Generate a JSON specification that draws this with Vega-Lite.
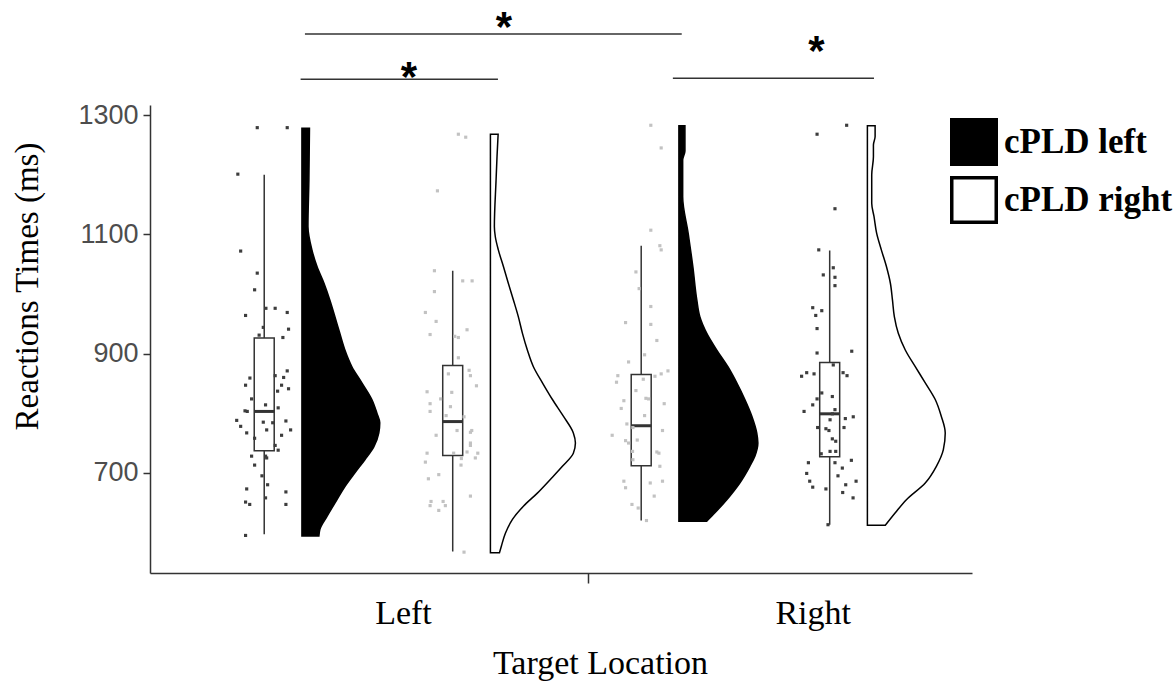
{
  "$schema": "https://vega.github.io/schema/vega-lite/v6.json",
  "autosize": {"type": "none"},
  "width": 822,
  "height": 468,
  "padding": {"left": 150, "top": 105, "right": 204, "bottom": 108},
  "background": "white",
  "config": {"view": {"stroke": null}},
  "datasets": {
    "dens": [
      {"loc":"Left","side":"cPLD left","rt":1278,"d":0.040},{"loc":"Left","side":"cPLD left","rt":1191,"d":0.037},{"loc":"Left","side":"cPLD left","rt":1113,"d":0.032},{"loc":"Left","side":"cPLD left","rt":1074,"d":0.053},{"loc":"Left","side":"cPLD left","rt":1046,"d":0.080},{"loc":"Left","side":"cPLD left","rt":1018,"d":0.117},{"loc":"Left","side":"cPLD left","rt":990,"d":0.148},{"loc":"Left","side":"cPLD left","rt":962,"d":0.175},{"loc":"Left","side":"cPLD left","rt":934,"d":0.201},{"loc":"Left","side":"cPLD left","rt":906,"d":0.228},{"loc":"Left","side":"cPLD left","rt":878,"d":0.265},{"loc":"Left","side":"cPLD left","rt":851,"d":0.318},{"loc":"Left","side":"cPLD left","rt":823,"d":0.371},{"loc":"Left","side":"cPLD left","rt":800,"d":0.398},{"loc":"Left","side":"cPLD left","rt":784,"d":0.413},{"loc":"Left","side":"cPLD left","rt":767,"d":0.408},{"loc":"Left","side":"cPLD left","rt":744,"d":0.382},{"loc":"Left","side":"cPLD left","rt":722,"d":0.334},{"loc":"Left","side":"cPLD left","rt":700,"d":0.281},{"loc":"Left","side":"cPLD left","rt":677,"d":0.228},{"loc":"Left","side":"cPLD left","rt":655,"d":0.186},{"loc":"Left","side":"cPLD left","rt":627,"d":0.133},{"loc":"Left","side":"cPLD left","rt":605,"d":0.095},{"loc":"Left","side":"cPLD left","rt":594,"d":0.090},
      {"loc":"Left","side":"cPLD right","rt":1268,"d":0.041},{"loc":"Left","side":"cPLD right","rt":1230,"d":0.035},{"loc":"Left","side":"cPLD right","rt":1191,"d":0.030},{"loc":"Left","side":"cPLD right","rt":1113,"d":0.021},{"loc":"Left","side":"cPLD right","rt":1096,"d":0.026},{"loc":"Left","side":"cPLD right","rt":1074,"d":0.042},{"loc":"Left","side":"cPLD right","rt":1046,"d":0.069},{"loc":"Left","side":"cPLD right","rt":1018,"d":0.095},{"loc":"Left","side":"cPLD right","rt":990,"d":0.122},{"loc":"Left","side":"cPLD right","rt":962,"d":0.148},{"loc":"Left","side":"cPLD right","rt":934,"d":0.170},{"loc":"Left","side":"cPLD right","rt":906,"d":0.196},{"loc":"Left","side":"cPLD right","rt":878,"d":0.228},{"loc":"Left","side":"cPLD right","rt":851,"d":0.276},{"loc":"Left","side":"cPLD right","rt":823,"d":0.329},{"loc":"Left","side":"cPLD right","rt":795,"d":0.387},{"loc":"Left","side":"cPLD right","rt":767,"d":0.440},{"loc":"Left","side":"cPLD right","rt":750,"d":0.451},{"loc":"Left","side":"cPLD right","rt":733,"d":0.440},{"loc":"Left","side":"cPLD right","rt":711,"d":0.382},{"loc":"Left","side":"cPLD right","rt":689,"d":0.318},{"loc":"Left","side":"cPLD right","rt":666,"d":0.249},{"loc":"Left","side":"cPLD right","rt":644,"d":0.175},{"loc":"Left","side":"cPLD right","rt":622,"d":0.117},{"loc":"Left","side":"cPLD right","rt":599,"d":0.080},{"loc":"Left","side":"cPLD right","rt":577,"d":0.058},{"loc":"Left","side":"cPLD right","rt":566,"d":0.048},
      {"loc":"Right","side":"cPLD left","rt":1282,"d":0.032},{"loc":"Right","side":"cPLD left","rt":1240,"d":0.032},{"loc":"Right","side":"cPLD left","rt":1225,"d":0.020},{"loc":"Right","side":"cPLD left","rt":1163,"d":0.020},{"loc":"Right","side":"cPLD left","rt":1102,"d":0.049},{"loc":"Right","side":"cPLD left","rt":1046,"d":0.074},{"loc":"Right","side":"cPLD left","rt":990,"d":0.095},{"loc":"Right","side":"cPLD left","rt":962,"d":0.111},{"loc":"Right","side":"cPLD left","rt":934,"d":0.148},{"loc":"Right","side":"cPLD left","rt":906,"d":0.201},{"loc":"Right","side":"cPLD left","rt":878,"d":0.260},{"loc":"Right","side":"cPLD left","rt":851,"d":0.307},{"loc":"Right","side":"cPLD left","rt":823,"d":0.350},{"loc":"Right","side":"cPLD left","rt":795,"d":0.387},{"loc":"Right","side":"cPLD left","rt":767,"d":0.413},{"loc":"Right","side":"cPLD left","rt":750,"d":0.419},{"loc":"Right","side":"cPLD left","rt":728,"d":0.403},{"loc":"Right","side":"cPLD left","rt":711,"d":0.376},{"loc":"Right","side":"cPLD left","rt":683,"d":0.323},{"loc":"Right","side":"cPLD left","rt":655,"d":0.254},{"loc":"Right","side":"cPLD left","rt":633,"d":0.191},{"loc":"Right","side":"cPLD left","rt":619,"d":0.148},
      {"loc":"Right","side":"cPLD right","rt":1282,"d":0.041},{"loc":"Right","side":"cPLD right","rt":1264,"d":0.041},{"loc":"Right","side":"cPLD right","rt":1250,"d":0.032},{"loc":"Right","side":"cPLD right","rt":1230,"d":0.032},{"loc":"Right","side":"cPLD right","rt":1200,"d":0.023},{"loc":"Right","side":"cPLD right","rt":1152,"d":0.023},{"loc":"Right","side":"cPLD right","rt":1130,"d":0.035},{"loc":"Right","side":"cPLD right","rt":1102,"d":0.049},{"loc":"Right","side":"cPLD right","rt":1074,"d":0.074},{"loc":"Right","side":"cPLD right","rt":1046,"d":0.101},{"loc":"Right","side":"cPLD right","rt":1018,"d":0.122},{"loc":"Right","side":"cPLD right","rt":990,"d":0.133},{"loc":"Right","side":"cPLD right","rt":962,"d":0.143},{"loc":"Right","side":"cPLD right","rt":934,"d":0.164},{"loc":"Right","side":"cPLD right","rt":906,"d":0.201},{"loc":"Right","side":"cPLD right","rt":878,"d":0.254},{"loc":"Right","side":"cPLD right","rt":851,"d":0.307},{"loc":"Right","side":"cPLD right","rt":823,"d":0.360},{"loc":"Right","side":"cPLD right","rt":795,"d":0.392},{"loc":"Right","side":"cPLD right","rt":767,"d":0.413},{"loc":"Right","side":"cPLD right","rt":739,"d":0.403},{"loc":"Right","side":"cPLD right","rt":711,"d":0.366},{"loc":"Right","side":"cPLD right","rt":683,"d":0.307},{"loc":"Right","side":"cPLD right","rt":655,"d":0.207},{"loc":"Right","side":"cPLD right","rt":633,"d":0.148},{"loc":"Right","side":"cPLD right","rt":612,"d":0.095}
    ],
    "box": [
      {"loc":"Left","side":"cPLD left","lo":597,"q1":737,"med":803,"q3":926,"hi":1200},
      {"loc":"Left","side":"cPLD right","lo":568,"q1":729,"med":786,"q3":880,"hi":1039},
      {"loc":"Right","side":"cPLD left","lo":620,"q1":712,"med":779,"q3":865,"hi":1081},
      {"loc":"Right","side":"cPLD right","lo":613,"q1":727,"med":799,"q3":885,"hi":1073}
    ],
    "pts": [
      {"loc":"Left","side":"cPLD left","rt":1279,"jit":-0.037},{"loc":"Left","side":"cPLD left","rt":1279,"jit":0.122},{"loc":"Left","side":"cPLD left","rt":1201,"jit":-0.140},{"loc":"Left","side":"cPLD left","rt":1072,"jit":-0.125},{"loc":"Left","side":"cPLD left","rt":1035,"jit":-0.037},{"loc":"Left","side":"cPLD left","rt":1007,"jit":-0.051},{"loc":"Left","side":"cPLD left","rt":964,"jit":-0.099},{"loc":"Left","side":"cPLD left","rt":976,"jit":0.009},{"loc":"Left","side":"cPLD left","rt":976,"jit":0.058},{"loc":"Left","side":"cPLD left","rt":969,"jit":0.122},{"loc":"Left","side":"cPLD left","rt":941,"jit":0.129},{"loc":"Left","side":"cPLD left","rt":927,"jit":0.099},{"loc":"Left","side":"cPLD left","rt":931,"jit":-0.027},{"loc":"Left","side":"cPLD left","rt":944,"jit":-0.005},{"loc":"Left","side":"cPLD left","rt":871,"jit":0.122},{"loc":"Left","side":"cPLD left","rt":863,"jit":0.058},{"loc":"Left","side":"cPLD left","rt":859,"jit":-0.076},{"loc":"Left","side":"cPLD left","rt":847,"jit":-0.099},{"loc":"Left","side":"cPLD left","rt":860,"jit":0.103},{"loc":"Left","side":"cPLD left","rt":847,"jit":0.092},{"loc":"Left","side":"cPLD left","rt":841,"jit":0.129},{"loc":"Left","side":"cPLD left","rt":837,"jit":0.071},{"loc":"Left","side":"cPLD left","rt":824,"jit":-0.067},{"loc":"Left","side":"cPLD left","rt":814,"jit":0.007},{"loc":"Left","side":"cPLD left","rt":804,"jit":-0.102},{"loc":"Left","side":"cPLD left","rt":803,"jit":-0.090},{"loc":"Left","side":"cPLD left","rt":809,"jit":0.074},{"loc":"Left","side":"cPLD left","rt":788,"jit":-0.146},{"loc":"Left","side":"cPLD left","rt":778,"jit":-0.125},{"loc":"Left","side":"cPLD left","rt":785,"jit":-0.005},{"loc":"Left","side":"cPLD left","rt":784,"jit":0.045},{"loc":"Left","side":"cPLD left","rt":787,"jit":0.115},{"loc":"Left","side":"cPLD left","rt":772,"jit":0.013},{"loc":"Left","side":"cPLD left","rt":772,"jit":0.140},{"loc":"Left","side":"cPLD left","rt":767,"jit":-0.093},{"loc":"Left","side":"cPLD left","rt":763,"jit":0.092},{"loc":"Left","side":"cPLD left","rt":758,"jit":-0.051},{"loc":"Left","side":"cPLD left","rt":746,"jit":0.058},{"loc":"Left","side":"cPLD left","rt":738,"jit":0.074},{"loc":"Left","side":"cPLD left","rt":728,"jit":-0.067},{"loc":"Left","side":"cPLD left","rt":728,"jit":0.007},{"loc":"Left","side":"cPLD left","rt":725,"jit":0.013},{"loc":"Left","side":"cPLD left","rt":713,"jit":-0.051},{"loc":"Left","side":"cPLD left","rt":695,"jit":-0.012},{"loc":"Left","side":"cPLD left","rt":680,"jit":0.018},{"loc":"Left","side":"cPLD left","rt":673,"jit":-0.093},{"loc":"Left","side":"cPLD left","rt":668,"jit":0.115},{"loc":"Left","side":"cPLD left","rt":658,"jit":0.007},{"loc":"Left","side":"cPLD left","rt":651,"jit":-0.099},{"loc":"Left","side":"cPLD left","rt":647,"jit":-0.077},{"loc":"Left","side":"cPLD left","rt":647,"jit":0.115},{"loc":"Left","side":"cPLD left","rt":595,"jit":-0.099},
      {"loc":"Left","side":"cPLD right","rt":1268,"jit":0.030},{"loc":"Left","side":"cPLD right","rt":1263,"jit":0.069},{"loc":"Left","side":"cPLD right","rt":1173,"jit":-0.081},{"loc":"Left","side":"cPLD right","rt":1039,"jit":-0.097},{"loc":"Left","side":"cPLD right","rt":1022,"jit":0.053},{"loc":"Left","side":"cPLD right","rt":1022,"jit":0.103},{"loc":"Left","side":"cPLD right","rt":1004,"jit":-0.097},{"loc":"Left","side":"cPLD right","rt":969,"jit":-0.145},{"loc":"Left","side":"cPLD right","rt":954,"jit":-0.088},{"loc":"Left","side":"cPLD right","rt":940,"jit":0.076},{"loc":"Left","side":"cPLD right","rt":932,"jit":-0.120},{"loc":"Left","side":"cPLD right","rt":929,"jit":0.011},{"loc":"Left","side":"cPLD right","rt":927,"jit":0.030},{"loc":"Left","side":"cPLD right","rt":893,"jit":0.030},{"loc":"Left","side":"cPLD right","rt":866,"jit":-0.023},{"loc":"Left","side":"cPLD right","rt":872,"jit":0.087},{"loc":"Left","side":"cPLD right","rt":863,"jit":0.094},{"loc":"Left","side":"cPLD right","rt":846,"jit":0.126},{"loc":"Left","side":"cPLD right","rt":836,"jit":-0.136},{"loc":"Left","side":"cPLD right","rt":835,"jit":-0.005},{"loc":"Left","side":"cPLD right","rt":824,"jit":-0.064},{"loc":"Left","side":"cPLD right","rt":816,"jit":-0.120},{"loc":"Left","side":"cPLD right","rt":803,"jit":-0.120},{"loc":"Left","side":"cPLD right","rt":811,"jit":-0.012},{"loc":"Left","side":"cPLD right","rt":796,"jit":-0.035},{"loc":"Left","side":"cPLD right","rt":794,"jit":0.060},{"loc":"Left","side":"cPLD right","rt":763,"jit":-0.088},{"loc":"Left","side":"cPLD right","rt":771,"jit":0.023},{"loc":"Left","side":"cPLD right","rt":768,"jit":0.094},{"loc":"Left","side":"cPLD right","rt":771,"jit":0.101},{"loc":"Left","side":"cPLD right","rt":750,"jit":0.094},{"loc":"Left","side":"cPLD right","rt":746,"jit":0.094},{"loc":"Left","side":"cPLD right","rt":733,"jit":-0.136},{"loc":"Left","side":"cPLD right","rt":733,"jit":0.005},{"loc":"Left","side":"cPLD right","rt":735,"jit":0.076},{"loc":"Left","side":"cPLD right","rt":733,"jit":0.133},{"loc":"Left","side":"cPLD right","rt":718,"jit":-0.145},{"loc":"Left","side":"cPLD right","rt":724,"jit":0.046},{"loc":"Left","side":"cPLD right","rt":725,"jit":0.120},{"loc":"Left","side":"cPLD right","rt":713,"jit":0.044},{"loc":"Left","side":"cPLD right","rt":697,"jit":-0.074},{"loc":"Left","side":"cPLD right","rt":690,"jit":-0.129},{"loc":"Left","side":"cPLD right","rt":661,"jit":0.094},{"loc":"Left","side":"cPLD right","rt":652,"jit":-0.115},{"loc":"Left","side":"cPLD right","rt":652,"jit":-0.051},{"loc":"Left","side":"cPLD right","rt":645,"jit":-0.120},{"loc":"Left","side":"cPLD right","rt":645,"jit":-0.039},{"loc":"Left","side":"cPLD right","rt":637,"jit":-0.074},{"loc":"Left","side":"cPLD right","rt":567,"jit":0.060},
      {"loc":"Right","side":"cPLD left","rt":1283,"jit":0.051},{"loc":"Right","side":"cPLD left","rt":1245,"jit":0.106},{"loc":"Right","side":"cPLD left","rt":1107,"jit":0.051},{"loc":"Right","side":"cPLD left","rt":1081,"jit":0.099},{"loc":"Right","side":"cPLD left","rt":1074,"jit":0.106},{"loc":"Right","side":"cPLD left","rt":1037,"jit":-0.028},{"loc":"Right","side":"cPLD left","rt":1009,"jit":-0.011},{"loc":"Right","side":"cPLD left","rt":979,"jit":0.051},{"loc":"Right","side":"cPLD left","rt":952,"jit":-0.083},{"loc":"Right","side":"cPLD left","rt":949,"jit":0.051},{"loc":"Right","side":"cPLD left","rt":922,"jit":0.083},{"loc":"Right","side":"cPLD left","rt":898,"jit":0.018},{"loc":"Right","side":"cPLD left","rt":886,"jit":-0.067},{"loc":"Right","side":"cPLD left","rt":871,"jit":0.142},{"loc":"Right","side":"cPLD left","rt":866,"jit":0.106},{"loc":"Right","side":"cPLD left","rt":862,"jit":0.073},{"loc":"Right","side":"cPLD left","rt":863,"jit":-0.124},{"loc":"Right","side":"cPLD left","rt":852,"jit":-0.131},{"loc":"Right","side":"cPLD left","rt":857,"jit":0.011},{"loc":"Right","side":"cPLD left","rt":825,"jit":0.025},{"loc":"Right","side":"cPLD left","rt":824,"jit":0.039},{"loc":"Right","side":"cPLD left","rt":838,"jit":-0.028},{"loc":"Right","side":"cPLD left","rt":821,"jit":-0.092},{"loc":"Right","side":"cPLD left","rt":816,"jit":0.122},{"loc":"Right","side":"cPLD left","rt":808,"jit":-0.106},{"loc":"Right","side":"cPLD left","rt":796,"jit":0.018},{"loc":"Right","side":"cPLD left","rt":782,"jit":-0.076},{"loc":"Right","side":"cPLD left","rt":776,"jit":-0.044},{"loc":"Right","side":"cPLD left","rt":763,"jit":-0.154},{"loc":"Right","side":"cPLD left","rt":771,"jit":0.113},{"loc":"Right","side":"cPLD left","rt":754,"jit":-0.083},{"loc":"Right","side":"cPLD left","rt":755,"jit":-0.021},{"loc":"Right","side":"cPLD left","rt":750,"jit":-0.067},{"loc":"Right","side":"cPLD left","rt":736,"jit":-0.046},{"loc":"Right","side":"cPLD left","rt":735,"jit":0.083},{"loc":"Right","side":"cPLD left","rt":733,"jit":0.094},{"loc":"Right","side":"cPLD left","rt":722,"jit":-0.044},{"loc":"Right","side":"cPLD left","rt":711,"jit":0.099},{"loc":"Right","side":"cPLD left","rt":686,"jit":-0.092},{"loc":"Right","side":"cPLD left","rt":683,"jit":0.048},{"loc":"Right","side":"cPLD left","rt":686,"jit":0.113},{"loc":"Right","side":"cPLD left","rt":675,"jit":-0.083},{"loc":"Right","side":"cPLD left","rt":661,"jit":0.069},{"loc":"Right","side":"cPLD left","rt":647,"jit":-0.049},{"loc":"Right","side":"cPLD left","rt":641,"jit":-0.016},{"loc":"Right","side":"cPLD left","rt":620,"jit":0.028},
      {"loc":"Right","side":"cPLD right","rt":1283,"jit":0.090},{"loc":"Right","side":"cPLD right","rt":1268,"jit":-0.067},{"loc":"Right","side":"cPLD right","rt":1143,"jit":0.028},{"loc":"Right","side":"cPLD right","rt":1074,"jit":-0.058},{"loc":"Right","side":"cPLD right","rt":1044,"jit":0.019},{"loc":"Right","side":"cPLD right","rt":1032,"jit":-0.034},{"loc":"Right","side":"cPLD right","rt":1028,"jit":0.028},{"loc":"Right","side":"cPLD right","rt":1014,"jit":0.028},{"loc":"Right","side":"cPLD right","rt":977,"jit":-0.090},{"loc":"Right","side":"cPLD right","rt":972,"jit":-0.042},{"loc":"Right","side":"cPLD right","rt":964,"jit":-0.074},{"loc":"Right","side":"cPLD right","rt":942,"jit":-0.067},{"loc":"Right","side":"cPLD right","rt":901,"jit":-0.067},{"loc":"Right","side":"cPLD right","rt":904,"jit":0.117},{"loc":"Right","side":"cPLD right","rt":862,"jit":-0.149},{"loc":"Right","side":"cPLD right","rt":868,"jit":-0.122},{"loc":"Right","side":"cPLD right","rt":866,"jit":-0.083},{"loc":"Right","side":"cPLD right","rt":881,"jit":0.019},{"loc":"Right","side":"cPLD right","rt":868,"jit":0.071},{"loc":"Right","side":"cPLD right","rt":863,"jit":0.092},{"loc":"Right","side":"cPLD right","rt":834,"jit":-0.042},{"loc":"Right","side":"cPLD right","rt":828,"jit":0.014},{"loc":"Right","side":"cPLD right","rt":824,"jit":-0.067},{"loc":"Right","side":"cPLD right","rt":814,"jit":-0.090},{"loc":"Right","side":"cPLD right","rt":803,"jit":-0.136},{"loc":"Right","side":"cPLD right","rt":806,"jit":0.028},{"loc":"Right","side":"cPLD right","rt":799,"jit":0.014},{"loc":"Right","side":"cPLD right","rt":791,"jit":0.083},{"loc":"Right","side":"cPLD right","rt":794,"jit":0.125},{"loc":"Right","side":"cPLD right","rt":776,"jit":0.076},{"loc":"Right","side":"cPLD right","rt":789,"jit":0.002},{"loc":"Right","side":"cPLD right","rt":776,"jit":-0.064},{"loc":"Right","side":"cPLD right","rt":774,"jit":-0.020},{"loc":"Right","side":"cPLD right","rt":771,"jit":-0.004},{"loc":"Right","side":"cPLD right","rt":757,"jit":0.014},{"loc":"Right","side":"cPLD right","rt":753,"jit":0.032},{"loc":"Right","side":"cPLD right","rt":736,"jit":0.002},{"loc":"Right","side":"cPLD right","rt":736,"jit":0.032},{"loc":"Right","side":"cPLD right","rt":732,"jit":-0.045},{"loc":"Right","side":"cPLD right","rt":721,"jit":0.115},{"loc":"Right","side":"cPLD right","rt":717,"jit":0.028},{"loc":"Right","side":"cPLD right","rt":717,"jit":-0.113},{"loc":"Right","side":"cPLD right","rt":708,"jit":0.067},{"loc":"Right","side":"cPLD right","rt":699,"jit":-0.122},{"loc":"Right","side":"cPLD right","rt":695,"jit":0.044},{"loc":"Right","side":"cPLD right","rt":686,"jit":-0.106},{"loc":"Right","side":"cPLD right","rt":686,"jit":0.140},{"loc":"Right","side":"cPLD right","rt":680,"jit":0.085},{"loc":"Right","side":"cPLD right","rt":676,"jit":-0.090},{"loc":"Right","side":"cPLD right","rt":673,"jit":-0.020},{"loc":"Right","side":"cPLD right","rt":667,"jit":0.069},{"loc":"Right","side":"cPLD right","rt":658,"jit":0.124},{"loc":"Right","side":"cPLD right","rt":613,"jit":-0.009}
    ],
    "sig": [
      {"from":1.216,"to":3.215,"level":1436,"star":2.272,"starY":1446},
      {"from":1.193,"to":2.240,"level":1360,"star":1.768,"starY":1363},
      {"from":3.168,"to":4.235,"level":1362,"star":3.929,"starY":1406}
    ]
  },
  "layer": [
    {
      "data": {"name": "dens"},
      "transform": [
        {"calculate": "(datum.loc === 'Left' ? 1 : 3) + (datum.side === 'cPLD right' ? 1 : 0)", "as": "pos"},
        {"calculate": "datum.pos + 0.2", "as": "xb"},
        {"calculate": "datum.pos + 0.2 + datum.d", "as": "xo"}
      ],
      "mark": {"type": "area", "orient": "horizontal", "interpolate": "monotone", "stroke": "black", "strokeWidth": 1.5, "opacity": 1},
      "encoding": {
        "y": {"field": "rt", "type": "quantitative", "scale": {"domain": [532, 1317], "nice": false, "zero": false},
          "axis": {"title": "Reactions Times (ms)", "values": [700, 900, 1100, 1300], "format": "d", "grid": false,
            "tickSize": 7, "tickColor": "#333333", "tickWidth": 1.5, "domainColor": "#333333", "domainWidth": 1.5,
            "labelFont": "Liberation Sans", "labelFontSize": 27, "labelColor": "#4d4d4d", "labelPadding": 5,
            "titleFont": "Liberation Serif", "titleFontSize": 33, "titleFontWeight": "normal", "titleColor": "black",
            "titleX": -123, "titleY": 181, "titleAngle": -90, "titleAlign": "center", "titleBaseline": "middle"}},
        "x": {"field": "xb", "type": "quantitative", "stack": null, "scale": {"domain": [0.394, 4.755], "nice": false, "zero": false},
          "axis": {"title": "Target Location", "values": [1.736, 2.717, 3.91], "grid": false,
            "labelExpr": "datum.value < 2.5 ? 'Left' : (datum.value > 3.5 ? 'Right' : '')",
            "tickOpacity": {"condition": {"test": "datum.value > 2.5 && datum.value < 3.5", "value": 1}, "value": 0},
            "tickSize": 10, "tickColor": "#333333", "tickWidth": 1.5, "domainColor": "#333333", "domainWidth": 1.5,
            "labelFont": "Liberation Serif", "labelFontSize": 34, "labelColor": "black", "labelPadding": 40,
            "labelBaseline": "alphabetic", "labelOverlap": false, "labelFlush": false,
            "titleFont": "Liberation Serif", "titleFontSize": 34, "titleFontWeight": "normal", "titleColor": "black",
            "titleX": 450, "titleY": 100, "titleAlign": "center", "titleBaseline": "alphabetic"}},
        "x2": {"field": "xo"},
        "detail": {"field": "loc", "type": "nominal"},
        "fill": {"field": "side", "type": "nominal", "scale": {"domain": ["cPLD left", "cPLD right"], "range": ["black", "white"]},
          "legend": {"orient": "none", "legendX": 800, "legendY": 13, "title": null, "symbolType": "square",
            "symbolSize": 1980, "symbolStrokeColor": "black", "symbolStrokeWidth": 3.5, "symbolOpacity": 1,
            "labelFont": "Liberation Serif", "labelFontSize": 35, "labelFontWeight": "bold", "labelColor": "black",
            "labelOffset": 6, "labelLimit": 400, "rowPadding": -2, "padding": 0}}
      }
    },
    {
      "data": {"name": "box"},
      "transform": [
        {"calculate": "(datum.loc === 'Left' ? 1 : 3) + (datum.side === 'cPLD right' ? 1 : 0)", "as": "pos"}
      ],
      "mark": {"type": "rule", "color": "#333333", "strokeWidth": 1.5},
      "encoding": {
        "x": {"field": "pos", "type": "quantitative", "scale": {"domain": [0.394, 4.755], "nice": false, "zero": false}},
        "y": {"field": "lo", "type": "quantitative", "scale": {"domain": [532, 1317], "nice": false, "zero": false}},
        "y2": {"field": "hi"}
      }
    },
    {
      "data": {"name": "box"},
      "transform": [
        {"calculate": "(datum.loc === 'Left' ? 1 : 3) + (datum.side === 'cPLD right' ? 1 : 0)", "as": "pos"},
        {"calculate": "datum.pos - 0.053", "as": "bl"},
        {"calculate": "datum.pos + 0.053", "as": "br"}
      ],
      "mark": {"type": "rect", "fill": "white", "stroke": "#333333", "strokeWidth": 1.5},
      "encoding": {
        "x": {"field": "bl", "type": "quantitative", "scale": {"domain": [0.394, 4.755], "nice": false, "zero": false}},
        "x2": {"field": "br"},
        "y": {"field": "q1", "type": "quantitative", "scale": {"domain": [532, 1317], "nice": false, "zero": false}},
        "y2": {"field": "q3"}
      }
    },
    {
      "data": {"name": "box"},
      "transform": [
        {"calculate": "(datum.loc === 'Left' ? 1 : 3) + (datum.side === 'cPLD right' ? 1 : 0)", "as": "pos"},
        {"calculate": "datum.pos - 0.053", "as": "bl"},
        {"calculate": "datum.pos + 0.053", "as": "br"}
      ],
      "mark": {"type": "rule", "color": "#333333", "strokeWidth": 3},
      "encoding": {
        "x": {"field": "bl", "type": "quantitative", "scale": {"domain": [0.394, 4.755], "nice": false, "zero": false}},
        "x2": {"field": "br"},
        "y": {"field": "med", "type": "quantitative", "scale": {"domain": [532, 1317], "nice": false, "zero": false}}
      }
    },
    {
      "data": {"name": "pts"},
      "transform": [
        {"calculate": "(datum.loc === 'Left' ? 1 : 3) + (datum.side === 'cPLD right' ? 1 : 0)", "as": "pos"},
        {"calculate": "datum.pos + datum.jit", "as": "xp"}
      ],
      "mark": {"type": "point", "shape": "square", "filled": true, "size": 10, "opacity": 1},
      "encoding": {
        "x": {"field": "xp", "type": "quantitative", "scale": {"domain": [0.394, 4.755], "nice": false, "zero": false}},
        "y": {"field": "rt", "type": "quantitative", "scale": {"domain": [532, 1317], "nice": false, "zero": false}},
        "color": {"condition": {"test": "datum.pos == 2 || datum.pos == 3", "value": "#c2c2c2"}, "value": "#3d3d3d"}
      }
    },
    {
      "data": {"name": "sig"},
      "mark": {"type": "rule", "color": "#333333", "strokeWidth": 1.5, "clip": false},
      "encoding": {
        "x": {"field": "from", "type": "quantitative", "scale": {"domain": [0.394, 4.755], "nice": false, "zero": false}},
        "x2": {"field": "to"},
        "y": {"field": "level", "type": "quantitative", "scale": {"domain": [532, 1317], "nice": false, "zero": false}}
      }
    },
    {
      "data": {"name": "sig"},
      "mark": {"type": "text", "text": "*", "font": "Liberation Sans", "fontSize": 42, "fontWeight": "bold", "color": "black", "baseline": "middle", "align": "center", "clip": false},
      "encoding": {
        "x": {"field": "star", "type": "quantitative", "scale": {"domain": [0.394, 4.755], "nice": false, "zero": false}},
        "y": {"field": "starY", "type": "quantitative", "scale": {"domain": [532, 1317], "nice": false, "zero": false}}
      }
    }
  ]
}
